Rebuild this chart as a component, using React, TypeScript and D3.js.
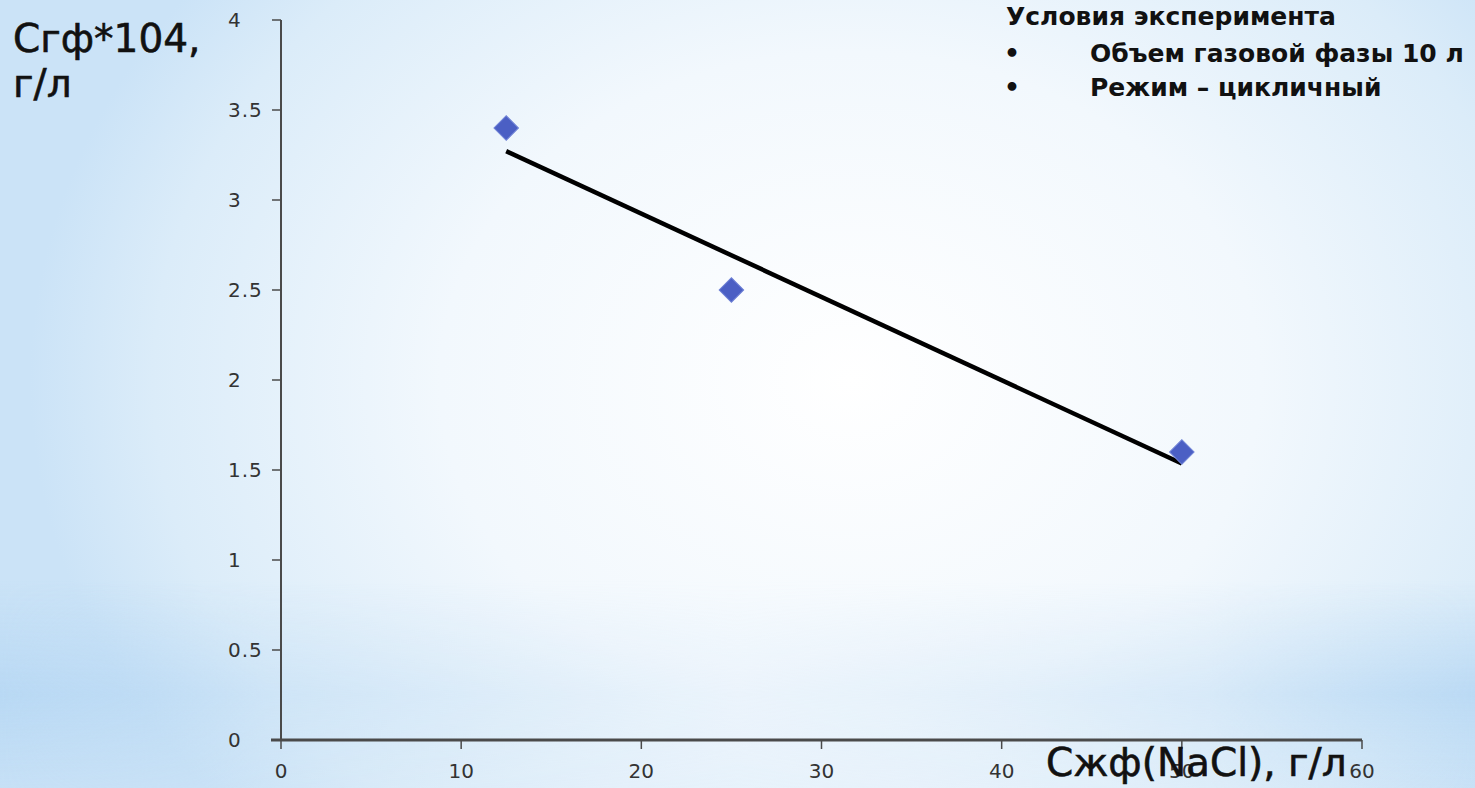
import { useEffect, useRef } from "react";
import * as d3 from "d3";

// measured points: Сжф(NaCl) vs Сгф*10^4
const saltConc = [12.5, 25, 50];
const gasConc = [3.4, 2.5, 1.6];

const xTicks = [0, 10, 20, 30, 40, 50, 60];
const xTickLabels = ["0", "10", "20", "30", "40", "50", "60"];
const yTicks = [0, 0.5, 1, 1.5, 2, 2.5, 3, 3.5, 4];
const yTickLabels = ["0", "0.5", "1", "1.5", "2", "2.5", "3", "3.5", "4"];

const yTitleLines = ["Сгф*104,", "г/л"];
const xTitle = "Сжф(NaCl), г/л";
const notesTitle = "Условия эксперимента";
const notes = ["Объем газовой фазы 10 л", "Режим – цикличный"];

const W = 1475;
const H = 788;

export default function App() {
    const svgRef = useRef<SVGSVGElement>(null);

    useEffect(() => {
        const svgEl = svgRef.current;
        if (!svgEl) return;
        const svg = d3.select(svgEl);
        svg.selectAll("*").remove();

        // background: white glow in the middle, pale blue edges, a blue band low down
        const defs = svg.append("defs");
        const rg = defs.append("radialGradient")
            .attr("id", "bg")
            .attr("gradientUnits", "userSpaceOnUse")
            .attr("cx", 850).attr("cy", 380).attr("r", 820)
            .attr("gradientTransform", "translate(850,380) scale(1,0.8) translate(-850,-380)");
        rg.append("stop").attr("offset", "0").attr("stop-color", "#ffffff");
        rg.append("stop").attr("offset", "0.5").attr("stop-color", "#f2f8fd");
        rg.append("stop").attr("offset", "0.85").attr("stop-color", "#dbecf9");
        rg.append("stop").attr("offset", "1").attr("stop-color", "#cbe3f7");
        svg.append("rect").attr("width", W).attr("height", H).attr("fill", "url(#bg)");

        const band = defs.append("linearGradient")
            .attr("id", "band").attr("x1", 0).attr("y1", 0).attr("x2", 0).attr("y2", 1);
        band.append("stop").attr("offset", "0").attr("stop-color", "#b4d6f3").attr("stop-opacity", 0);
        band.append("stop").attr("offset", "0.55").attr("stop-color", "#b4d6f3").attr("stop-opacity", 0.8);
        band.append("stop").attr("offset", "1").attr("stop-color", "#b4d6f3").attr("stop-opacity", 0.2);
        const fade = defs.append("linearGradient")
            .attr("id", "fade").attr("x1", 0).attr("y1", 0).attr("x2", 1).attr("y2", 0);
        fade.append("stop").attr("offset", "0").attr("stop-color", "#fff");
        fade.append("stop").attr("offset", "0.18").attr("stop-color", "#666");
        fade.append("stop").attr("offset", "0.5").attr("stop-color", "#222");
        fade.append("stop").attr("offset", "0.82").attr("stop-color", "#666");
        fade.append("stop").attr("offset", "1").attr("stop-color", "#fff");
        defs.append("mask").attr("id", "bandMask")
            .append("rect").attr("x", 0).attr("y", 0).attr("width", W).attr("height", H)
            .attr("fill", "url(#fade)");
        svg.append("rect").attr("x", 0).attr("y", 580).attr("width", W).attr("height", 208)
            .attr("fill", "url(#band)").attr("mask", "url(#bandMask)");

        const x = d3.scaleLinear().domain([0, 60]).range([281, 1362]);
        const y = d3.scaleLinear().domain([0, 4]).range([740, 20]);

        const axisColor = "#4a4a4a";
        const labelFont = "'DejaVu Sans', sans-serif";

        // Y axis
        const gy = svg.append("g");
        gy.append("line")
            .attr("x1", x(0)).attr("x2", x(0))
            .attr("y1", y(4)).attr("y2", y(0))
            .attr("stroke", axisColor).attr("stroke-width", 2);
        gy.selectAll("line.tick").data(yTicks).join("line")
            .attr("class", "tick")
            .attr("x1", x(0) - 9).attr("x2", x(0))
            .attr("y1", d => y(d)).attr("y2", d => y(d))
            .attr("stroke", axisColor).attr("stroke-width", 1.5);
        gy.selectAll("text").data(yTicks).join("text")
            .attr("x", 228)
            .attr("y", d => y(d))
            .attr("dy", "0.36em")
            .attr("font-family", labelFont)
            .attr("font-size", 20)
            .attr("letter-spacing", 1)
            .attr("fill", "#333")
            .text((d, i) => yTickLabels[i]);

        // X axis
        const gx = svg.append("g");
        gx.append("line")
            .attr("x1", x(0) - 10).attr("x2", x(60))
            .attr("y1", y(0)).attr("y2", y(0))
            .attr("stroke", axisColor).attr("stroke-width", 3);
        gx.selectAll("line.tick").data(xTicks).join("line")
            .attr("class", "tick")
            .attr("x1", d => x(d)).attr("x2", d => x(d))
            .attr("y1", y(0)).attr("y2", y(0) + 9)
            .attr("stroke", axisColor).attr("stroke-width", 1.5);
        gx.selectAll("text").data(xTicks).join("text")
            .attr("x", d => x(d))
            .attr("y", 778)
            .attr("text-anchor", "middle")
            .attr("font-family", labelFont)
            .attr("font-size", 20)
            .attr("fill", "#333")
            .text((d, i) => xTickLabels[i]);

        // trend line (least squares through the points)
        const mx = d3.mean(saltConc) as number;
        const my = d3.mean(gasConc) as number;
        const sxy = d3.sum(saltConc, (v, i) => (v - mx) * (gasConc[i] - my));
        const sxx = d3.sum(saltConc, v => (v - mx) ** 2);
        const slope = sxy / sxx;
        const icpt = my - slope * mx;
        const ends = d3.extent(saltConc) as [number, number];
        const line = d3.line<number>()
            .x(d => x(d))
            .y(d => y(icpt + slope * d));
        svg.append("path")
            .datum(ends)
            .attr("fill", "none")
            .attr("stroke", "#000")
            .attr("stroke-width", 4.5)
            .attr("d", line);

        // markers
        const diamond = d3.symbol().type(d3.symbolSquare).size(300)();
        svg.selectAll("path.pt").data(saltConc).join("path")
            .attr("class", "pt")
            .attr("d", diamond)
            .attr("transform", (d, i) => `translate(${x(d)},${y(gasConc[i])}) rotate(45)`)
            .attr("fill", "#4b5fc4")
            .attr("stroke", "#6f82d6")
            .attr("stroke-width", 1);

        // axis titles
        const titleFont = "'DejaVu Sans', sans-serif";
        svg.append("g").selectAll("text").data(yTitleLines).join("text")
            .attr("x", 13)
            .attr("y", (d, i) => 52 + i * 45)
            .attr("font-family", titleFont)
            .attr("font-size", 39)
            .attr("fill", "#111")
            .attr("stroke", "#111").attr("stroke-width", 0.6)
            .text(d => d);

        svg.append("text")
            .attr("x", 1046)
            .attr("y", 776)
            .attr("font-family", titleFont)
            .attr("font-size", 39)
            .attr("fill", "#111")
            .attr("stroke", "#111").attr("stroke-width", 0.6)
            .text(xTitle);

        // experiment conditions
        const notesG = svg.append("g")
            .attr("font-family", titleFont)
            .attr("font-weight", "bold")
            .attr("font-size", 25)
            .attr("fill", "#111");
        notesG.append("text").attr("x", 1006).attr("y", 25).text(notesTitle);
        notesG.selectAll("text.bul").data(notes).join("text")
            .attr("class", "bul")
            .attr("x", 1004)
            .attr("y", (d, i) => 62 + i * 34)
            .text("•");
        notesG.selectAll("text.item").data(notes).join("text")
            .attr("class", "item")
            .attr("x", 1090)
            .attr("y", (d, i) => 62 + i * 34)
            .text(d => d);
    }, []);

    return (
        <svg
            ref={svgRef}
            width={W}
            height={H}
            style={{ position: "absolute", left: 0, top: 0, display: "block" }}
        />
    );
}
